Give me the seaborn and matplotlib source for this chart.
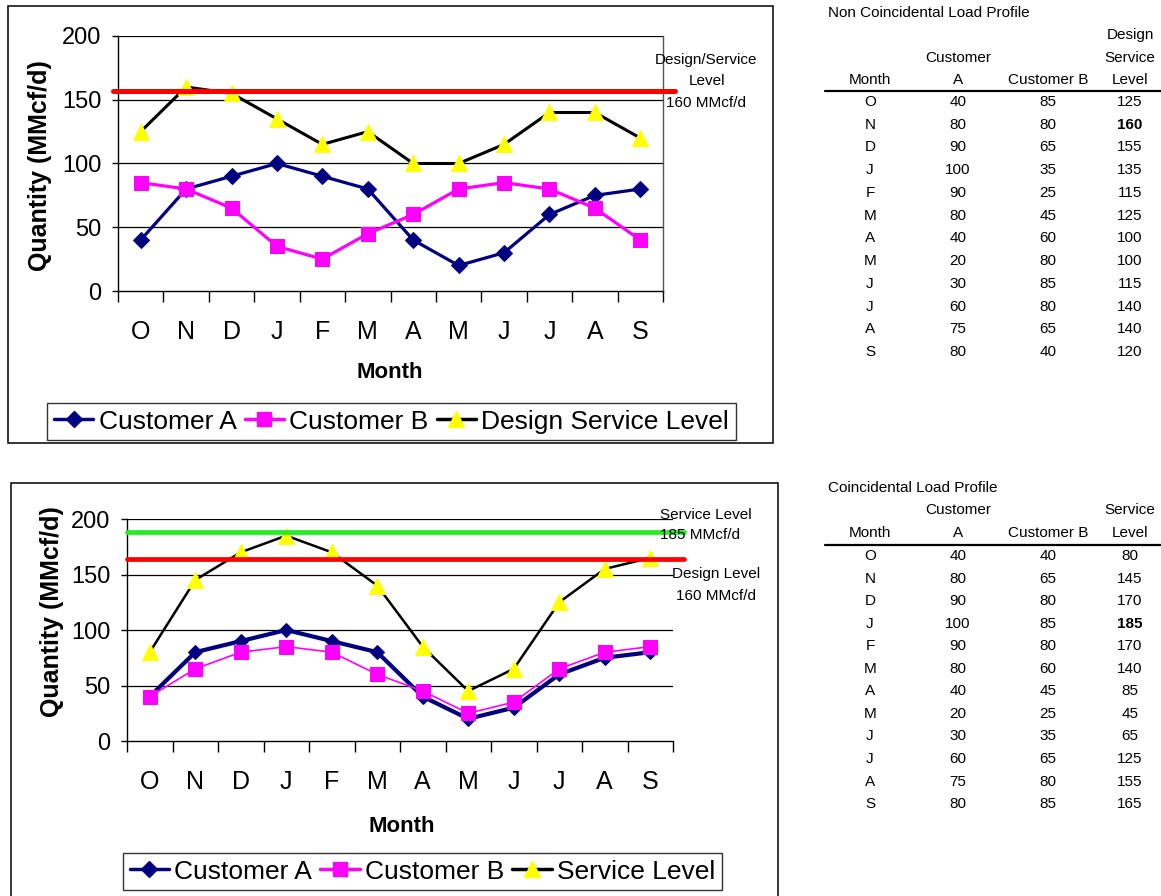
import numpy as np
import pandas as pd
import matplotlib
matplotlib.use("Agg")
import matplotlib.pyplot as plt
import seaborn as sns
from matplotlib.lines import Line2D
from matplotlib.patches import Rectangle

# ---------------- data ----------------
months = ["O", "N", "D", "J", "F", "M", "A", "M", "J", "J", "A", "S"]

nc_customer_a = [40, 80, 90, 100, 90, 80, 40, 20, 30, 60, 75, 80]
nc_customer_b = [85, 80, 65, 35, 25, 45, 60, 80, 85, 80, 65, 40]
nc_design_service = [125, 160, 155, 135, 115, 125, 100, 100, 115, 140, 140, 120]

c_customer_a = [40, 80, 90, 100, 90, 80, 40, 20, 30, 60, 75, 80]
c_customer_b = [40, 65, 80, 85, 80, 60, 45, 25, 35, 65, 80, 85]
c_service = [80, 145, 170, 185, 170, 140, 85, 45, 65, 125, 155, 165]

top_design_line = 157
bottom_design_line = 164
bottom_service_line = 188

y_ticks = [0, 50, 100, 150, 200]

NAVY = "#000080"
MAGENTA = "#FF00FF"
YELLOW = "#FFFF00"
RED = "#FF0000"
GREEN = "#22EE22"

# ---------------- figure ----------------
sns.set_theme(style="white")
plt.rcParams["font.family"] = ["Liberation Sans", "DejaVu Sans"]
plt.rcParams["text.color"] = "black"
plt.rcParams["axes.labelcolor"] = "black"
plt.rcParams["xtick.color"] = "black"
plt.rcParams["ytick.color"] = "black"

W, H = 1161, 896
fig = plt.figure(figsize=(W / 100, H / 100), dpi=100)
fig.patch.set_facecolor("white")


def fx(x):
    return x / W


def fy(y):
    return 1 - y / H


def make_axes(left, right, top, bottom, right_spine):
    ax = fig.add_axes([fx(left), fy(bottom), (right - left) / W, (bottom - top) / H])
    ax.set_facecolor("white")
    ax.set_xlim(-0.5, len(months) - 0.5)
    ax.set_ylim(0, 200)
    ax.set_yticks(y_ticks)
    ax.set_yticklabels([str(v) for v in y_ticks], fontsize=17, color="black")
    ax.tick_params(axis="y", which="major", left=True, length=4, width=1,
                   direction="out", pad=8, colors="black")
    ax.set_xticks(np.arange(-0.5, len(months), 1.0))
    ax.set_xticklabels([])
    ax.tick_params(axis="x", which="major", bottom=True, length=8, width=1,
                   direction="out", colors="black")
    ax.set_xticks(np.arange(len(months)), minor=True)
    ax.set_xticklabels(months, minor=True, fontsize=18, color="black")
    ax.tick_params(axis="x", which="minor", bottom=True, length=0, pad=21,
                   colors="black")
    ax.grid(False)
    for v in y_ticks[1:]:
        ax.axhline(v, color="black", lw=0.9, zorder=0.5)
    for s in ["left", "bottom"]:
        ax.spines[s].set_visible(True)
        ax.spines[s].set_color("black")
        ax.spines[s].set_linewidth(1)
    ax.spines["top"].set_visible(False)
    ax.spines["right"].set_visible(right_spine)
    ax.spines["right"].set_color("#555555")
    ax.spines["right"].set_linewidth(1)
    return ax


x_idx = np.arange(len(months))

# ---------- top chart ----------
ax1 = make_axes(118, 663, 36, 291, True)
sns.lineplot(x=x_idx, y=nc_customer_a, ax=ax1, color=NAVY, lw=2.3, marker="D",
             markersize=8, markeredgecolor=NAVY, zorder=3, legend=False)
sns.lineplot(x=x_idx, y=nc_customer_b, ax=ax1, color=MAGENTA, lw=2.3, marker="s",
             markersize=9.5, markeredgecolor=MAGENTA, zorder=3, legend=False)
sns.lineplot(x=x_idx, y=nc_design_service, ax=ax1, color="black", lw=2.2, marker="^",
             markersize=11, markerfacecolor=YELLOW, markeredgecolor=YELLOW,
             zorder=3, legend=False)
ax1.axhline(top_design_line, xmin=-0.009, xmax=1.022, color=RED, lw=3.6,
            clip_on=False, zorder=4)
ax1.set_xlabel("")
ax1.set_ylabel("")

# ---------- bottom chart ----------
ax2 = make_axes(127, 673, 519, 741, False)
sns.lineplot(x=x_idx, y=c_customer_a, ax=ax2, color=NAVY, lw=3.0, marker="D",
             markersize=7, markeredgecolor=NAVY, zorder=3, legend=False)
sns.lineplot(x=x_idx, y=c_customer_b, ax=ax2, color=MAGENTA, lw=1.2, marker="s",
             markersize=9.5, markeredgecolor=MAGENTA, zorder=3, legend=False)
sns.lineplot(x=x_idx, y=c_service, ax=ax2, color="black", lw=1.8, marker="^",
             markersize=11, markerfacecolor=YELLOW, markeredgecolor=YELLOW,
             zorder=3, legend=False)
ax2.axhline(bottom_service_line, xmin=0, xmax=1.02, color=GREEN, lw=3.4,
            clip_on=False, zorder=4)
ax2.axhline(bottom_design_line, xmin=0, xmax=1.02, color=RED, lw=3.4,
            clip_on=False, zorder=4)
ax2.set_xlabel("")
ax2.set_ylabel("")

# ---------- axis titles ----------
fig.text(fx(40), fy(166), "Quantity (MMcf/d)", rotation=90, fontsize=18,
         fontweight="bold", ha="center", va="center", color="black")
fig.text(fx(52), fy(612), "Quantity (MMcf/d)", rotation=90, fontsize=18,
         fontweight="bold", ha="center", va="center", color="black")
fig.text(fx(390), fy(373), "Month", fontsize=16, fontweight="bold",
         ha="center", va="center", color="black")
fig.text(fx(402), fy(826), "Month", fontsize=16, fontweight="bold",
         ha="center", va="center", color="black")

# ---------- annotations ----------
for txt, x, y in [("Design/Service", 706, 60), ("Level", 707, 81),
                  ("160 MMcf/d", 706, 103),
                  ("Service Level", 706, 515), ("185 MMcf/d", 700, 535),
                  ("Design Level", 716, 574), ("160 MMcf/d", 716, 596)]:
    fig.text(fx(x), fy(y), txt, fontsize=11, ha="center", va="center", color="black")

# ---------- legends ----------
def legend_handles(third):
    return [
        Line2D([], [], color=NAVY, lw=2.5, marker="D", markersize=8,
               markeredgecolor=NAVY, label="Customer A"),
        Line2D([], [], color=MAGENTA, lw=2.5, marker="s", markersize=9.5,
               markeredgecolor=MAGENTA, label="Customer B"),
        Line2D([], [], color="black", lw=2.5, marker="^", markersize=11,
               markerfacecolor=YELLOW, markeredgecolor=YELLOW, label=third),
    ]


for third, cx, cy in [("Design Service Level", 391.5, 421.5),
                      ("Service Level", 422.5, 871.5)]:
    leg = fig.legend(handles=legend_handles(third), loc="center",
                     bbox_to_anchor=(fx(cx), fy(cy)), ncol=3, fontsize=19,
                     frameon=True, fancybox=False, edgecolor="black",
                     handlelength=1.5, handletextpad=0.2, columnspacing=0.3,
                     borderpad=0.25, numpoints=1, labelcolor="black")
    leg.get_frame().set_linewidth(1.0)

# ---------- frames ----------
fig.add_artist(Rectangle((fx(8), fy(443)), (773 - 8) / W, (443 - 6) / H,
                         transform=fig.transFigure, fill=False,
                         edgecolor="black", lw=1.1))
fig.add_artist(Rectangle((fx(11), fy(900)), (778 - 11) / W, (900 - 483) / H,
                         transform=fig.transFigure, fill=False,
                         edgecolor="black", lw=1.1))

# ---------- tables ----------
col_x = {"month": 870, "a": 958, "b": 1048, "lvl": 1130}


def draw_table(title, title_y, header_rows, line_y, row0_y, step, a, b, lvl):
    fig.text(fx(828), fy(title_y), title, fontsize=11, ha="left", va="center",
             color="black")
    for (txt, col, y) in header_rows:
        fig.text(fx(col_x[col]), fy(y), txt, fontsize=11, ha="center", va="center",
                 color="black")
    fig.add_artist(Line2D([fx(825), 1.0], [fy(line_y), fy(line_y)],
                          transform=fig.transFigure, color="black", lw=1.6))
    peak = max(lvl)
    for i, m in enumerate(months):
        y = row0_y + i * step
        fig.text(fx(col_x["month"]), fy(y), m, fontsize=11, ha="center",
                 va="center", color="black")
        fig.text(fx(col_x["a"]), fy(y), str(a[i]), fontsize=11, ha="center",
                 va="center", color="black")
        fig.text(fx(col_x["b"]), fy(y), str(b[i]), fontsize=11, ha="center",
                 va="center", color="black")
        fig.text(fx(col_x["lvl"]), fy(y), str(lvl[i]), fontsize=11, ha="center",
                 va="center", color="black",
                 fontweight="bold" if lvl[i] == peak else "normal")


draw_table("Non Coincidental Load Profile", 13,
           [("Design", "lvl", 35), ("Customer", "a", 58), ("Service", "lvl", 58),
            ("Month", "month", 80), ("A", "a", 80), ("Customer B", "b", 80),
            ("Level", "lvl", 80)],
           91, 102, 22.73, nc_customer_a, nc_customer_b, nc_design_service)

draw_table("Coincidental Load Profile", 488,
           [("Customer", "a", 510), ("Service", "lvl", 510),
            ("Month", "month", 533), ("A", "a", 533), ("Customer B", "b", 533),
            ("Level", "lvl", 533)],
           545, 556, 22.55, c_customer_a, c_customer_b, c_service)

fig.savefig("out.png", dpi=100, facecolor="white")
